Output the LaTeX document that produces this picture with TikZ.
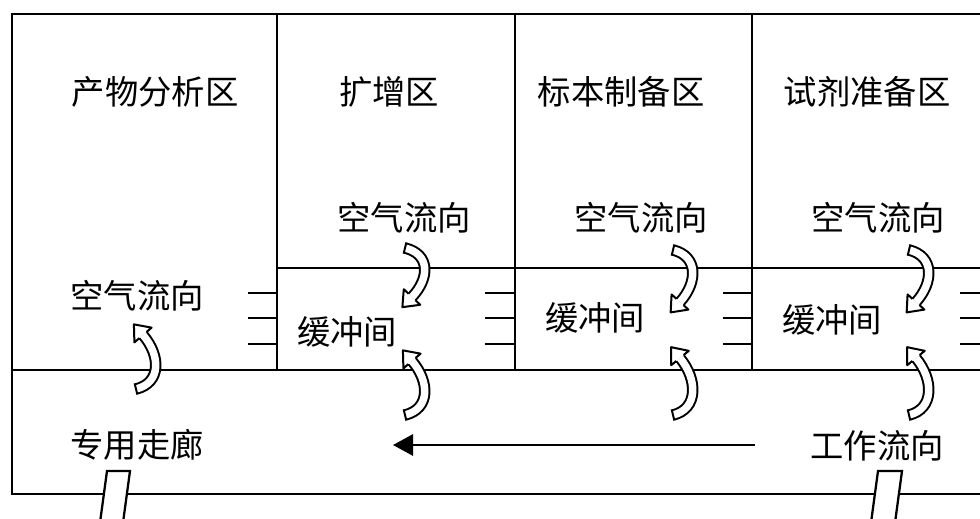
\documentclass[tikz,border=0pt]{standalone}
\usepackage{fontspec}
\setmainfont{Noto Sans CJK SC}
\usetikzlibrary{calc,arrows.meta}
\newcommand\airflowarrow[4]{%
  \draw[line width=8.6pt,line cap=butt] (#1) .. controls (#2) and (#3) .. (#4);
  \draw[line width=5.6pt,white,line cap=butt] (#1) .. controls (#2) and (#3) .. (#4);
  \draw[line width=1.5pt] ($(#1)!4.3pt!90:(#2)$) -- ($(#1)!4.3pt!-90:(#2)$);
  \fill[white] ($(#4)!8.5pt!90:(#3)$) -- ($(#4)!-10.5pt!(#3)$) -- ($(#4)!8.5pt!-90:(#3)$) -- cycle;
  \draw[line width=1.5pt,line join=round] ($(#4)!3.55pt!90:(#3)$) -- ($(#4)!8.5pt!90:(#3)$) -- ($(#4)!-10.5pt!(#3)$) -- ($(#4)!8.5pt!-90:(#3)$) -- ($(#4)!3.55pt!-90:(#3)$);
}
\begin{document}
\begin{tikzpicture}[x=0.75pt,y=-0.75pt,
  wall/.style={line width=1.7pt},
  doorline/.style={line width=1.4pt},
  lbl/.style={font=\fontsize{25}{30}\selectfont,inner sep=0pt}]
\useasboundingbox (0,0) rectangle (980,518);
% walls
\draw[wall] (980,14) -- (12,14) -- (12,494) -- (980,494);
\draw[wall] (12,370) -- (980,370);
\draw[wall] (277,14) -- (277,370);
\draw[wall] (515,14) -- (515,370);
\draw[wall] (752,14) -- (752,370);
\draw[wall] (277,268) -- (980,268);
% door marks
\foreach \yy in {293,318,344}{
  \draw[doorline] (248,\yy) -- (277,\yy);
  \draw[doorline] (485,\yy) -- (515,\yy);
  \draw[doorline] (723,\yy) -- (752,\yy);
  \draw[doorline] (960,\yy) -- (980,\yy);
}
% entrance doors
\filldraw[wall,fill=white] (99,530) -- (107,471) -- (130,471) -- (122,530);
\filldraw[wall,fill=white] (870,530) -- (878,471) -- (902,471) -- (894,530);
% labels
\node[lbl] (t1) at (155,92) {产物分析区};
\node[lbl] (t2) at (389,92) {扩增区};
\node[lbl] (t3) at (621,92) {标本制备区};
\node[lbl] (t4) at (867,92) {试剂准备区};
\node[lbl] (a1) at (404,218) {空气流向};
\node[lbl] (a2) at (641,218) {空气流向};
\node[lbl] (a3) at (878,218) {空气流向};
\node[lbl] (a0) at (137,296) {空气流向};
\node[lbl] (b1) at (347,332) {缓冲间};
\node[lbl] (b2) at (595,318) {缓冲间};
\node[lbl] (b3) at (832,320) {缓冲间};
\node[lbl] (c) at (137,445) {专用走廊};
\node[lbl] (w) at (877,446) {工作流向};
% air flow arrows
\airflowarrow{405,248}{430,254}{430,278}{412,297}
\airflowarrow{405,415}{430,409}{430,382}{412,361}
\airflowarrow{673,250}{698,256}{698,282}{680,302}
\airflowarrow{673,415}{698,409}{698,380}{680,358}
\airflowarrow{909,250}{934,256}{934,282}{916,302}
\airflowarrow{909,415}{934,409}{934,380}{916,358}
\airflowarrow{136,389}{161,383}{161,356}{143,335}
% work flow arrow
\coordinate (wfs) at (755,445);
\coordinate (wfe) at (393,445);
\draw[line width=1.4pt,-{Triangle[length=15pt,width=16pt]}] (wfs) -- (wfe);
\end{tikzpicture}
\end{document}
